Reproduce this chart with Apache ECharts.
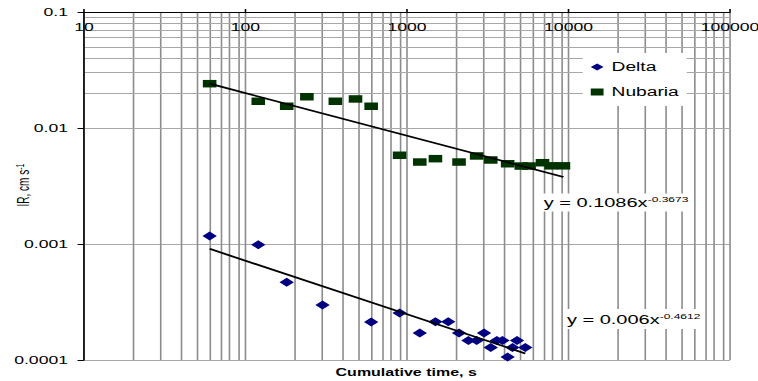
<!DOCTYPE html>
<html>
<head>
<meta charset="utf-8">
<script src="https://cdn.jsdelivr.net/npm/echarts@6/dist/echarts.min.js"></script>
<style>
  html, body { margin: 0; padding: 0; background: #fff; overflow: hidden; }
  /* the chart is laid out narrow and widened on screen, giving its wide lettering and markers */
  #chart { width: 474px; height: 381px; transform: scaleX(1.5992); transform-origin: 0 0; }
</style>
</head>
<body>
<div id="chart"></div>
<script>
// Cumulative time (s) and infiltration rate (cm/s) for the two soils
const deltaTime = [60, 120, 180, 300, 600, 900, 1200, 1500, 1800, 2100, 2400, 2700, 3000, 3300, 3600, 3900, 4200, 4500, 4800, 5400];
const deltaIR = [0.00117, 0.000986, 0.000468, 0.000298, 0.000213, 0.000254, 0.000171, 0.000214, 0.000214, 0.000171,
                 0.000147, 0.000147, 0.000171, 0.000128, 0.000147, 0.000147, 0.000106, 0.000128, 0.000147, 0.000128];

const nubariaTime = [60, 120, 180, 240, 360, 480, 600, 900, 1200, 1500, 2100, 2700, 3300, 4200, 5100, 5700, 6900, 7800, 9300];
const nubariaIR = [0.0241, 0.0170, 0.0154, 0.0186, 0.0170, 0.0178, 0.0154, 0.00582, 0.00509, 0.00544,
                   0.00509, 0.00574, 0.00530, 0.00492, 0.00470, 0.00470, 0.00502, 0.00472, 0.00472];

// Power-law trend lines y = a * x^b
const deltaFit = { a: 0.006, b: -0.4612 };
const nubariaFit = { a: 0.1086, b: -0.3673 };

// Axis ticks and their labels
const xTicks = [10, 100, 1000, 10000, 100000];
const xTickLabels = ['10', '100', '1000', '10000', '100000'];
const yTicks = [0.0001, 0.001, 0.01, 0.1];
const yTickLabels = ['0.0001', '0.001', '0.01', '0.1'];

const FONT = "'Liberation Sans', Arial, sans-serif";

function labelFor(ticks, labels) {
  return function (v) {
    const i = ticks.findIndex(t => Math.abs(Math.log10(t) - Math.log10(v)) < 1e-6);
    return i < 0 ? '' : labels[i];
  };
}

function pairs(xs, ys) { return xs.map((x, i) => [x, ys[i]]); }

function fitLine(xs, fit) {
  const lo = Math.min(...xs), hi = Math.max(...xs);
  return [[lo, fit.a * Math.pow(lo, fit.b)], [hi, fit.a * Math.pow(hi, fit.b)]];
}

// 2..9 minor grid values inside each decade
function minorValues(ticks) {
  const out = [];
  for (let i = 0; i < ticks.length - 1; i++) {
    for (let k = 2; k <= 9; k++) out.push(ticks[i] * k);
  }
  return out;
}

const gridLines = [].concat(
  minorValues(xTicks).map(v => ({ xAxis: v, lineStyle: { color: '#8c8c8c', width: 1, type: 'solid' } })),
  minorValues(yTicks).map(v => ({ yAxis: v, lineStyle: { color: '#a8a8a8', width: 1, type: 'solid' } }))
);

const chart = echarts.init(document.getElementById('chart'), null, { renderer: 'svg' });

chart.setOption({
  animation: false,
  backgroundColor: '#fff',
  textStyle: { fontFamily: FONT },
  grid: { left: 52.5, right: 17.5, top: 12, bottom: 21, containLabel: false, outerBoundsMode: 'none' },
  xAxis: {
    type: 'log', logBase: 10, min: 10, max: 100000, position: 'top',
    axisLine: { show: true, onZero: false, lineStyle: { color: '#000', width: 1 } },
    axisTick: { show: true, length: 3, lineStyle: { color: '#000' } },
    axisLabel: { inside: true, margin: 10, color: '#000', fontFamily: FONT, fontSize: 11, hideOverlap: false, formatter: labelFor(xTicks, xTickLabels) },
    splitLine: { show: true, lineStyle: { color: '#8c8c8c', width: 1 } }
  },
  yAxis: {
    type: 'log', logBase: 10, min: 0.0001, max: 0.1,
    axisLine: { show: true, onZero: false, lineStyle: { color: '#000', width: 1 } },
    axisTick: { show: true, length: 4, lineStyle: { color: '#000' } },
    axisLabel: { margin: 10, color: '#000', fontFamily: FONT, fontSize: 11, formatter: labelFor(yTicks, yTickLabels) },
    splitLine: { show: true, lineStyle: { color: '#a8a8a8', width: 1 } }
  },
  legend: {
    orient: 'vertical', left: 364.4, top: 53, z: 6,
    padding: [8, 5, 8, 5], itemGap: 13,
    itemWidth: 8, itemHeight: 7,
    backgroundColor: '#fff',
    textStyle: { fontFamily: FONT, fontSize: 12, color: '#000' },
    data: [{ name: 'Delta', icon: 'diamond' }, { name: 'Nubaria', icon: 'rect' }]
  },
  series: [
    {
      type: 'line', name: 'gridlines', data: [], silent: true, z: 0,
      markLine: { silent: true, z: 0, symbol: ['none', 'none'], label: { show: false }, animation: false, data: gridLines }
    },
    {
      type: 'scatter', name: 'Delta', data: pairs(deltaTime, deltaIR),
      symbol: 'diamond', symbolSize: [9, 9], itemStyle: { color: '#000080', opacity: 1 }, z: 3
    },
    {
      type: 'scatter', name: 'Nubaria', data: pairs(nubariaTime, nubariaIR),
      symbol: 'rect', symbolSize: [8.5, 7.5], itemStyle: { color: '#003300', opacity: 1 }, z: 3
    },
    {
      type: 'line', name: 'Delta trend', data: fitLine(deltaTime, deltaFit), symbol: 'none', silent: true,
      lineStyle: { color: '#000', width: 1.7 }, z: 4
    },
    {
      type: 'line', name: 'Nubaria trend', data: fitLine(nubariaTime, nubariaFit), symbol: 'none', silent: true,
      lineStyle: { color: '#000', width: 1.7 }, z: 4
    }
  ],
  graphic: [
    {
      // y-axis title, rotated to read upwards
      type: 'text', z: 100, x: 15, y: 185, rotation: Math.PI / 2,
      style: {
        text: '{a|IR, cm s}{b|-1}',
        align: 'center', verticalAlign: 'middle',
        rich: {
          a: { fontFamily: FONT, fontSize: 10, fill: '#000', lineHeight: 12 },
          b: { fontFamily: FONT, fontSize: 7, fill: '#000', verticalAlign: 'top', lineHeight: 8 }
        }
      }
    },
    {
      type: 'text', z: 100, x: 338.5, y: 202.5,
      style: {
        text: '{m|y = ' + nubariaFit.a + 'x}{s|' + nubariaFit.b + '}',
        verticalAlign: 'middle', align: 'left',
        backgroundColor: '#fff', padding: [2, 1.5, 1, 1.5],
        rich: {
          m: { fontFamily: FONT, fontSize: 12.5, fill: '#000', lineHeight: 15 },
          s: { fontFamily: FONT, fontSize: 7.5, fill: '#000', verticalAlign: 'top', lineHeight: 9 }
        }
      }
    },
    {
      type: 'text', z: 100, x: 353, y: 319,
      style: {
        text: '{m|y = ' + deltaFit.a + 'x}{s|' + deltaFit.b + '}',
        verticalAlign: 'middle', align: 'left',
        backgroundColor: '#fff', padding: [3, 1.5, 2, 1.5],
        rich: {
          m: { fontFamily: FONT, fontSize: 12.5, fill: '#000', lineHeight: 15 },
          s: { fontFamily: FONT, fontSize: 7.5, fill: '#000', verticalAlign: 'top', lineHeight: 9 }
        }
      }
    },
    {
      type: 'text', z: 100, x: 254, y: 373,
      style: {
        text: 'Cumulative time, s', align: 'center', verticalAlign: 'middle',
        fontFamily: FONT, fontSize: 10, fontWeight: 'bold', fill: '#000'
      }
    }
  ]
});
</script>
</body>
</html>
